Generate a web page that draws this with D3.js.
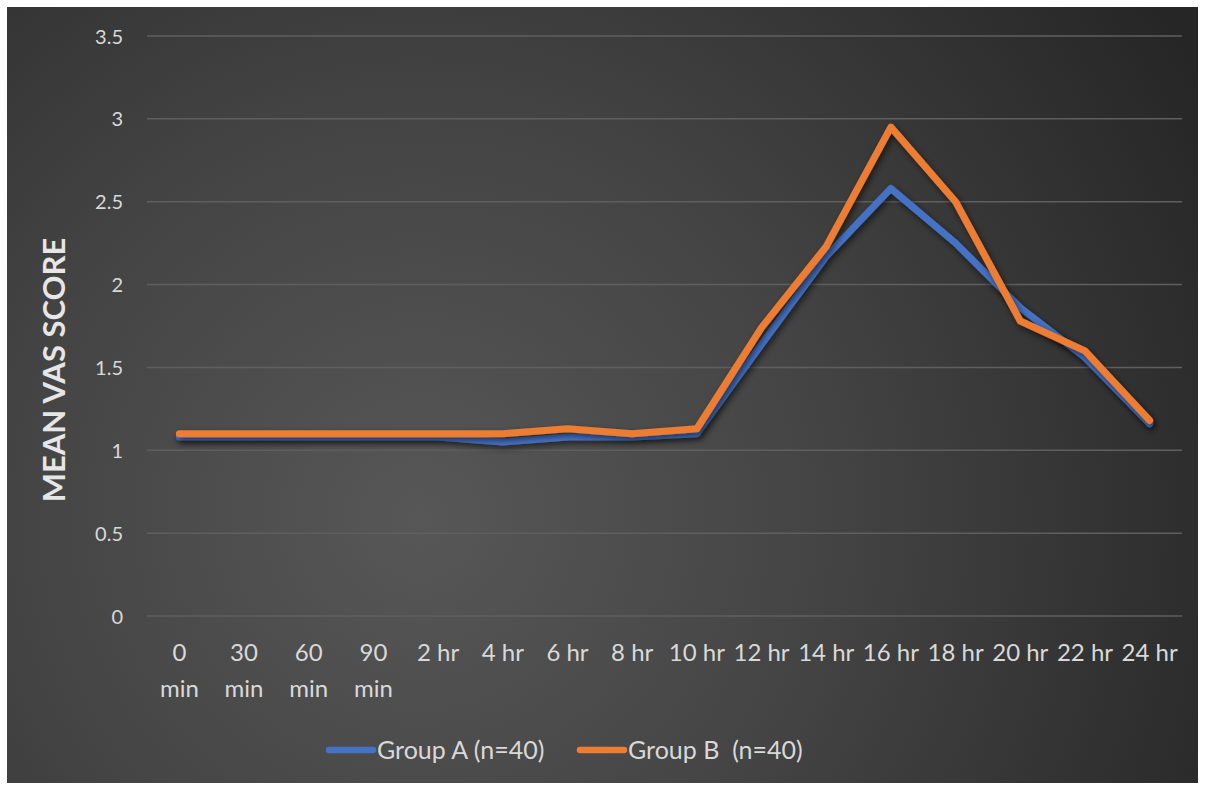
<!DOCTYPE html>
<html><head><meta charset="utf-8">
<script src="https://cdn.jsdelivr.net/npm/d3@7"></script>
<style>
html,body{margin:0;padding:0;background:#fff;}
svg{display:block;}
text{font-family:Lato,"Open Sans",sans-serif;}
</style></head>
<body>
<script>
const categories = ["0 min","30 min","60 min","90 min","2 hr","4 hr","6 hr","8 hr","10 hr","12 hr","14 hr","16 hr","18 hr","20 hr","22 hr","24 hr"];
const groupA = [1.08,1.08,1.08,1.08,1.08,1.05,1.08,1.08,1.10,1.64,2.17,2.58,2.25,1.86,1.56,1.16];
const groupB = [1.10,1.10,1.10,1.10,1.10,1.10,1.13,1.10,1.13,1.74,2.23,2.95,2.50,1.78,1.60,1.18];
const seriesNames = ["Group A (n=40)","Group B  (n=40)"];
const seriesColors = ["#4472C4","#ED7D31"];
const yTicks = [0,0.5,1,1.5,2,2.5,3,3.5];
const yTitle = "MEAN VAS SCORE";

const W=1205,H=790;
const svg=d3.select("body").append("svg").attr("width",W).attr("height",H);
const defs=svg.append("defs");
const rg=defs.append("radialGradient").attr("id","bg").attr("gradientUnits","userSpaceOnUse")
  .attr("cx",420).attr("cy",520).attr("r",900);
rg.append("stop").attr("offset","0").attr("stop-color","#575757");
rg.append("stop").attr("offset","0.45").attr("stop-color","#444444");
rg.append("stop").attr("offset","1").attr("stop-color","#262626");
const f=defs.append("filter").attr("id","sh").attr("x","-10%").attr("y","-10%").attr("width","120%").attr("height","130%");
f.append("feDropShadow").attr("dx",2).attr("dy",3).attr("stdDeviation",3).attr("flood-color","#000").attr("flood-opacity",0.6);

svg.append("rect").attr("x",7).attr("y",7).attr("width",1191).attr("height",776).attr("fill","url(#bg)");

const m={l:147,r:1182,t:36,b:616};
const x=d3.scaleBand().domain(categories).range([m.l,m.r]);
const y=d3.scaleLinear().domain([0,3.5]).range([m.b,m.t]);

// gridlines
svg.append("g").selectAll("line").data(yTicks).join("line")
  .attr("x1",m.l).attr("x2",m.r).attr("y1",d=>y(d)).attr("y2",d=>y(d))
  .attr("stroke","#5f5f5f").attr("stroke-width",1.5);

// y axis labels
const yAxis=d3.axisLeft(y).tickValues(yTicks).tickSize(0).tickPadding(0).tickFormat(d=>String(d));
const gy=svg.append("g").attr("transform",`translate(${m.l-24},0)`).call(yAxis);
gy.select(".domain").remove();
gy.selectAll("text").attr("fill","#d9d9d9").style("font-size","20px").attr("dy","0.35em");

// x axis labels
const xAxis=d3.axisBottom(x).tickSize(0).tickPadding(0);
const gx=svg.append("g").attr("transform",`translate(0,${m.b})`).call(xAxis);
gx.select(".domain").remove();
gx.selectAll("text").each(function(d){
  const t=d3.select(this); t.text(null).attr("fill","#d9d9d9").style("font-size","24px").attr("y",0).attr("dy",null);
  const parts = d.endsWith("min") ? d.split(" ") : [d];
  parts.forEach((p,i)=>t.append("tspan").attr("x",0).attr("y",45+i*36).text(p));
});

// y title
svg.append("text").attr("transform",`translate(65,${(m.t+m.b)/2+44}) rotate(-90)`)
  .attr("text-anchor","middle").attr("fill","#e6e6e6").style("font-size","31px").style("font-weight","bold")
  .text(yTitle);

// lines
const line=d3.line().x((d,i)=>x(categories[i])+x.bandwidth()/2).y(d=>y(d));
[groupA,groupB].forEach((s,k)=>{
  svg.append("path").datum(s).attr("d",line).attr("fill","none")
    .attr("stroke",seriesColors[k]).attr("stroke-width",7).attr("stroke-linecap","round").attr("stroke-linejoin","round")
    .attr("filter","url(#sh)");
});

// legend
const lg=[{x:329,tx:377},{x:580,tx:628}];
seriesNames.forEach((n,k)=>{
  svg.append("line").attr("x1",lg[k].x).attr("x2",lg[k].x+44).attr("y1",750).attr("y2",750)
    .attr("stroke",seriesColors[k]).attr("stroke-width",6.5).attr("stroke-linecap","round");
  svg.append("text").attr("x",lg[k].tx).attr("y",750).attr("dy","0.35em").attr("fill","#d9d9d9")
    .style("font-size","25px").attr("xml:space","preserve").style("white-space","pre").text(n);
});
</script>
</body></html>
